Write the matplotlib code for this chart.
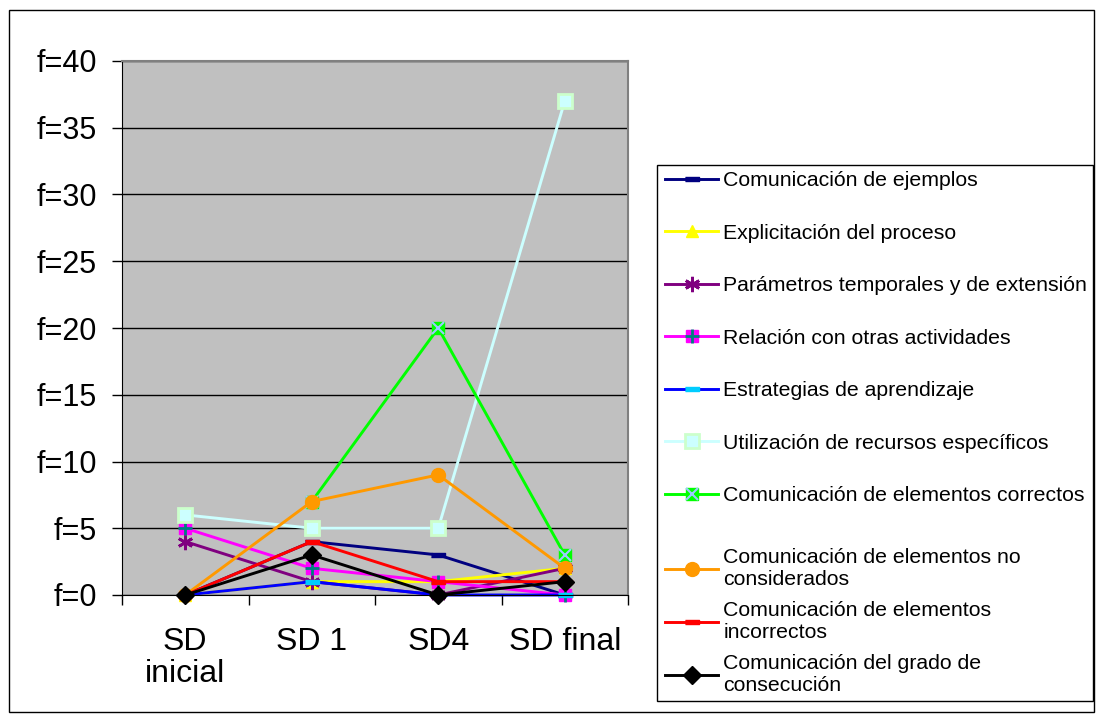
import numpy as np
import matplotlib
matplotlib.use("Agg")
import matplotlib.pyplot as plt
from matplotlib.patches import Rectangle

plt.rcParams["font.family"] = ["Liberation Sans", "DejaVu Sans"]

categories = ["SD\ninicial", "SD 1", "SD4", "SD final"]
ejemplos = [0, 4, 3, 0]
explicitacion = [0, 1, 1, 2]
parametros = [4, 1, 0, 2]
relacion = [5, 2, 1, 0]
estrategias = [0, 1, 0, 0]
utilizacion = [6, 5, 5, 37]
correctos = [np.nan, 7, 20, 3]
no_considerados = [0, 7, 9, 2]
incorrectos = [0, 4, 1, 1]
grado = [0, 3, 0, 1]
y_ticks = [0, 5, 10, 15, 20, 25, 30, 35, 40]
y_labels = [f"f={v}" for v in y_ticks]

dash = [(-1, -0.3), (1, -0.3), (1, 0.3), (-1, 0.3)]

fig = plt.figure(figsize=(11.03, 7.22), dpi=100)
ax = fig.add_axes([122 / 1103, 1 - 595 / 722, 506 / 1103, 534 / 722])
ax.set_facecolor("#C0C0C0")
x = np.arange(len(categories))
lw = 2.1

h = []
l1, = ax.plot(x, ejemplos, color="#000080", lw=lw, marker=dash, ms=10, mfc="#000080", mec="#000080")
h.append(l1)
l2, = ax.plot(x, explicitacion, color="#FFFF00", lw=lw, marker="^", ms=9, mfc="#FFFF00", mec="#FFFF00")
h.append(l2)
l3, = ax.plot(x, parametros, color="#800080", lw=lw, marker=(6, 2, 0), ms=11, mew=2, mec="#800080")
h.append(l3)
l4, = ax.plot(x, relacion, color="#FF00FF", lw=lw, marker="s", ms=9, mfc="#FF00FF", mec="#FF00FF")
l4b, = ax.plot(x, relacion, ls="none", marker="+", ms=10, mew=2, mec="#008080")
h.append((l4, l4b))
l5, = ax.plot(x, estrategias, color="#0000FF", lw=lw, marker=dash, ms=10, mfc="#00CCFF", mec="#00CCFF")
h.append(l5)
l6, = ax.plot(x, utilizacion, color="#CCFFFF", lw=lw, marker="s", ms=10, mfc="#CCFFFF", mec="#CCFFCC", mew=2)
h.append(l6)
l7, = ax.plot(x, correctos, color="#00FF00", lw=lw, marker="s", ms=9, mfc="#00FF00", mec="#00FF00")
l7b, = ax.plot(x, correctos, ls="none", marker="x", ms=9, mew=1.5, mec="#99CCFF")
h.append((l7, l7b))
l8, = ax.plot(x, no_considerados, color="#FF9900", lw=lw, marker="o", ms=10, mfc="#FF9900", mec="#FF9900")
h.append(l8)
l9, = ax.plot(x, incorrectos, color="#FF0000", lw=lw, marker=dash, ms=10, mfc="#FF0000", mec="#FF0000")
h.append(l9)
l10, = ax.plot(x, grado, color="#000000", lw=lw, marker="D", ms=9, mfc="#000000", mec="#000000")
h.append(l10)

for l in [l1, l2, l3, l4, l4b, l5, l6, l7, l7b, l8, l9, l10]:
    l.set_clip_on(False)

ax.set_xlim(-0.5, 3.5)
ax.set_ylim(0, 40)
ax.set_yticks(y_ticks)
ax.set_yticklabels(y_labels, fontsize=22)
ax.tick_params(axis="y", direction="out", length=7, width=1, pad=11)
ax.set_xticks(x)
ax.set_xticklabels(categories, fontsize=23, va="top", linespacing=1.1)
ax.tick_params(axis="x", length=0, pad=23)
ax.set_xticks(np.arange(-0.5, 4, 1), minor=True)
ax.tick_params(axis="x", which="minor", direction="out", length=7, width=1)
ax.grid(axis="y", color="black", lw=1)
ax.set_axisbelow(True)
for s in ["top", "right"]:
    ax.spines[s].set_color("#808080")
    ax.spines[s].set_linewidth(1.5)
ax.spines["left"].set_color("black")
ax.spines["bottom"].set_color("black")

labels = [
    "Comunicación de ejemplos",
    "Explicitación del proceso",
    "Parámetros temporales y de extensión",
    "Relación con otras actividades",
    "Estrategias de aprendizaje",
    "Utilización de recursos específicos",
    "Comunicación de elementos correctos",
    "Comunicación de elementos no\nconsiderados",
    "Comunicación de elementos\nincorrectos",
    "Comunicación del grado de\nconsecución",
]

# legend frame
fig.patches.append(Rectangle((657 / 1103, 1 - 701 / 722), 436 / 1103, 536 / 722,
                             transform=fig.transFigure, fill=False, ec="black", lw=1))
# outer chart border
fig.patches.append(Rectangle((9 / 1103, 1 - 712 / 722), 1085 / 1103, 702 / 722,
                             transform=fig.transFigure, fill=False, ec="black", lw=1))

kw = dict(frameon=False, fontsize=15.3, handlelength=2.5, handletextpad=0.25,
          borderpad=0, borderaxespad=0, loc="upper left")
leg1 = fig.legend(h[:7], labels[:7], bbox_to_anchor=(665 / 1103, 1 - 171 / 722),
                  labelspacing=1.58, **kw)
leg2 = fig.legend(h[7:], labels[7:], bbox_to_anchor=(665 / 1103, 1 - 548 / 722),
                  labelspacing=0.56, **kw)
for t in leg2.get_texts():
    t.set_linespacing(1.21)

fig.savefig("out.png", dpi=100)
